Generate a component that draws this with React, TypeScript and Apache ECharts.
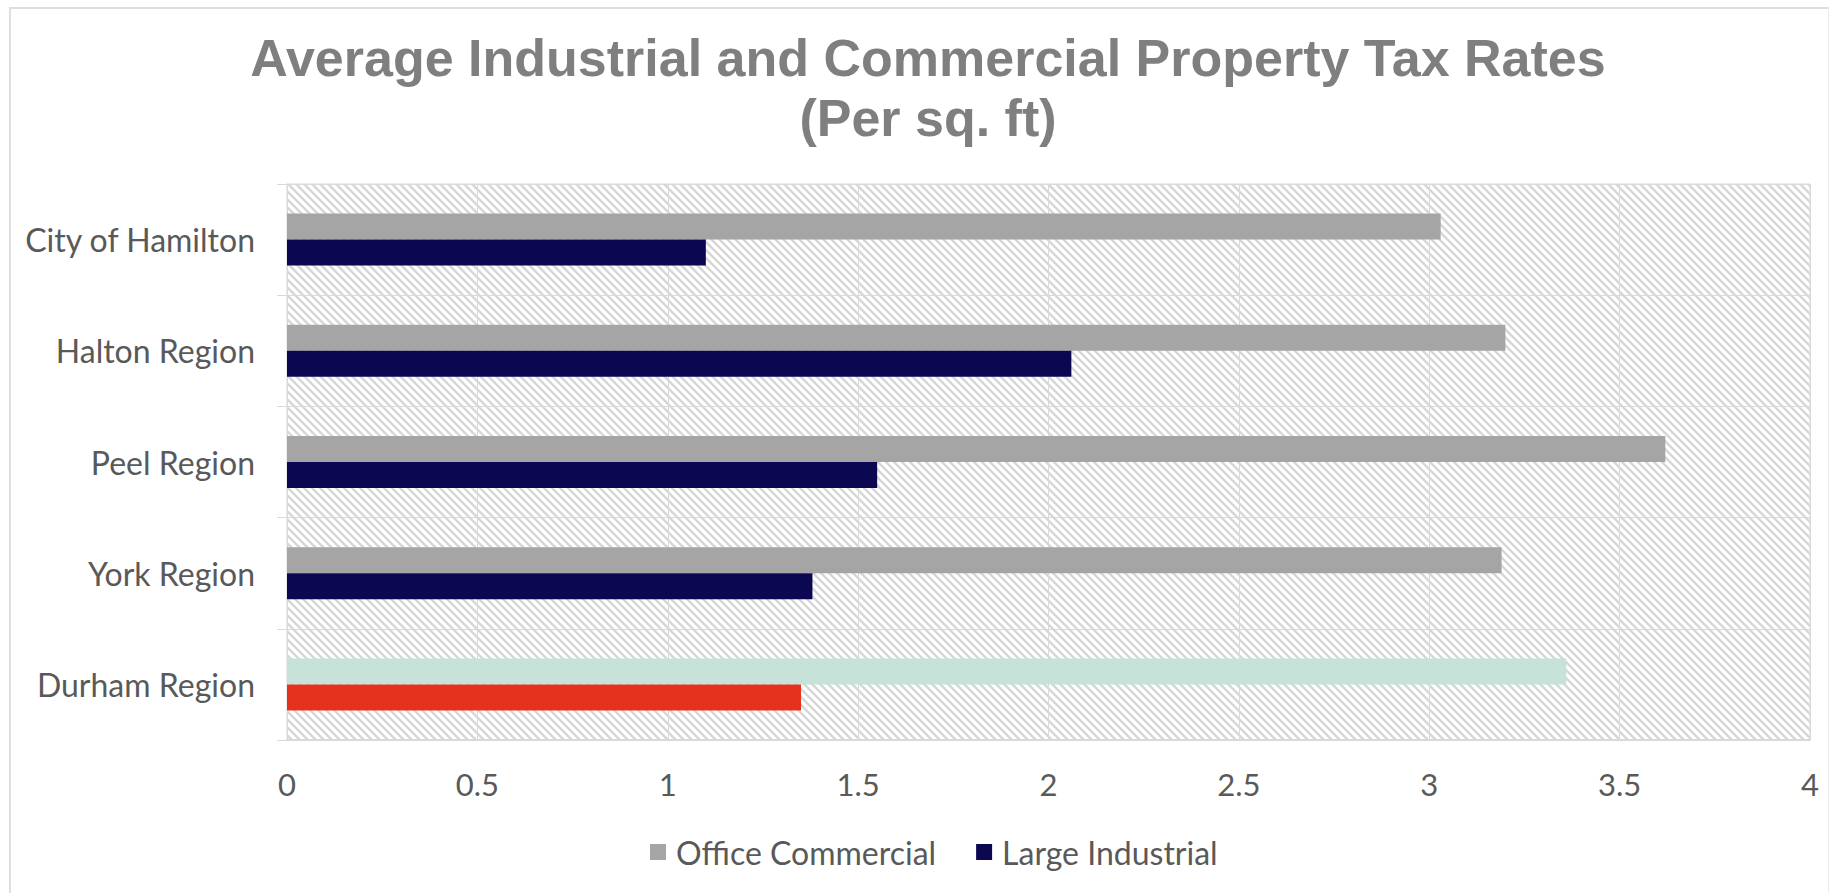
import React, { useEffect, useRef } from "react";
import * as echarts from "echarts";

const titleLines = ["Average Industrial and Commercial Property Tax Rates", "(Per sq. ft)"];
const categories = ["City of Hamilton", "Halton Region", "Peel Region", "York Region", "Durham Region"];
const seriesNames = ["Office Commercial", "Large Industrial"];
const officeCommercial = [3.03, 3.2, 3.62, 3.19, 3.36];
const largeIndustrial = [1.1, 2.06, 1.55, 1.38, 1.35];
const xMin = 0;
const xMax = 4;
const xInterval = 0.5;
const highlightCategory = "Durham Region";

const COLORS = {
  office: "#a5a5a5",
  industrial: "#0b0750",
  officeHighlight: "#c6e2d9",
  industrialHighlight: "#e5321f",
  text: "#595959",
  title: "#7f7f7f",
  grid: "#d9d9d9",
};

function makeHatch(): HTMLCanvasElement {
  const c = document.createElement("canvas");
  c.width = 8;
  c.height = 8;
  const ctx = c.getContext("2d")!;
  ctx.fillStyle = "#ffffff";
  ctx.fillRect(0, 0, 8, 8);
  ctx.strokeStyle = "#d6d6d6";
  ctx.lineWidth = 2.4;
  ctx.beginPath();
  ctx.moveTo(-2, -2);
  ctx.lineTo(10, 10);
  ctx.moveTo(-10, -2);
  ctx.lineTo(2, 10);
  ctx.moveTo(6, -2);
  ctx.lineTo(18, 10);
  ctx.stroke();
  return c;
}

export default function App() {
  const ref = useRef<HTMLDivElement>(null);

  useEffect(() => {
    if (!ref.current) return;
    const chart = echarts.init(ref.current, null, { renderer: "svg" });
    const hatch = makeHatch();
    const labelFont = "Lato, 'Noto Sans', sans-serif";

    const officeData = officeCommercial.map((v, i) =>
      categories[i] === highlightCategory
        ? { value: v, itemStyle: { color: COLORS.officeHighlight } }
        : v
    );
    const industrialData = largeIndustrial.map((v, i) =>
      categories[i] === highlightCategory
        ? { value: v, itemStyle: { color: COLORS.industrialHighlight } }
        : v
    );

    chart.setOption({
      animation: false,
      backgroundColor: "#ffffff",
      title: {
        text: titleLines.join("\n"),
        left: 928,
        top: 28,
        textAlign: "center",
        textVerticalAlign: "top",
        padding: 0,
        textStyle: {
          fontFamily: "'Liberation Sans', Arial, sans-serif",
          fontWeight: "bold",
          fontSize: 52,
          lineHeight: 60,
          color: COLORS.title,
        },
      },
      legend: {
        data: seriesNames,
        left: 650,
        top: 836,
        icon: "rect",
        itemWidth: 16,
        itemHeight: 16,
        itemGap: 40,
        padding: 0,
        textStyle: {
          fontFamily: labelFont,
          fontSize: 32,
          color: COLORS.text,
          padding: [0, 0, 0, 5],
        },
      },
      grid: {
        left: 287,
        right: 24,
        top: 184,
        bottom: 153,
        show: true,
        backgroundColor: { image: hatch, repeat: "repeat", imageWidth: 8, imageHeight: 8 },
        borderColor: COLORS.grid,
        borderWidth: 1,
        containLabel: false,
      },
      xAxis: {
        type: "value",
        min: xMin,
        max: xMax,
        interval: xInterval,
        axisLine: { show: true, lineStyle: { color: COLORS.grid, width: 2 } },
        axisTick: { show: false },
        splitLine: { show: true, lineStyle: { color: COLORS.grid, width: 1 } },
        axisLabel: {
          color: COLORS.text,
          fontFamily: labelFont,
          fontSize: 31,
          margin: 28,
        },
      },
      yAxis: {
        type: "category",
        data: categories,
        inverse: true,
        axisLine: { show: true, lineStyle: { color: COLORS.grid, width: 1 } },
        axisTick: { show: true, length: 10, interval: 0, lineStyle: { color: COLORS.grid } },
        splitLine: { show: true, interval: 0, lineStyle: { color: COLORS.grid, width: 1 } },
        axisLabel: {
          color: COLORS.text,
          fontFamily: labelFont,
          fontSize: 32,
          margin: 32,
          interval: 0,
        },
      },
      series: [
        {
          name: seriesNames[0],
          type: "bar",
          data: officeData,
          barWidth: 26,
          barGap: "0%",
          itemStyle: { color: COLORS.office },
        },
        {
          name: seriesNames[1],
          type: "bar",
          data: industrialData,
          barWidth: 26,
          barGap: "0%",
          itemStyle: { color: COLORS.industrial },
        },
      ],
    });

    return () => chart.dispose();
  }, []);

  return (
    <div
      style={{
        position: "fixed",
        left: 0,
        top: 0,
        width: 1834,
        height: 893,
        background: "#ffffff",
        overflow: "hidden",
      }}
    >
      <div ref={ref} style={{ position: "absolute", left: 0, top: 0, width: 1834, height: 893 }} />
      <div
        style={{
          position: "absolute",
          left: 9,
          top: 7,
          width: 1817,
          height: 900,
          borderTop: "2px solid #dedede",
          borderLeft: "2px solid #dedede",
          borderRight: "1px solid #ececec",
          pointerEvents: "none",
        }}
      />
    </div>
  );
}
